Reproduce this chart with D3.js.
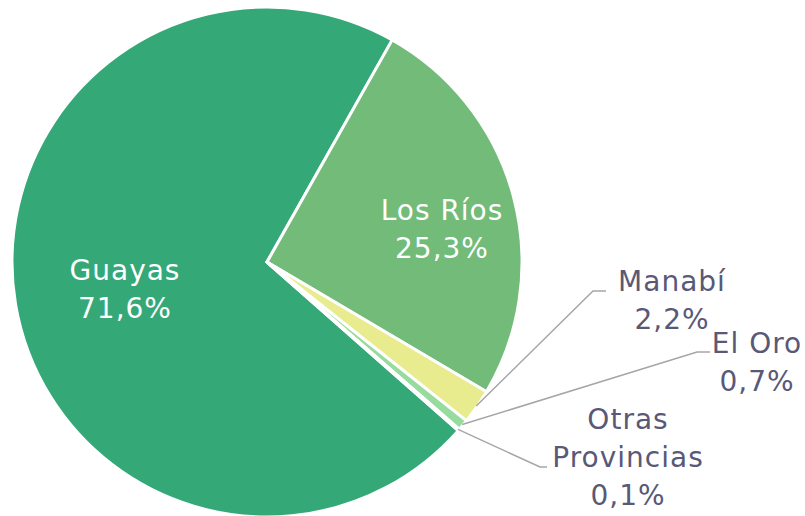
<!DOCTYPE html>
<html>
<head>
<meta charset="utf-8">
<script src="https://cdn.jsdelivr.net/npm/d3@7"></script>
<style>
    body { margin: 0; background: #ffffff; }
    svg text { font-family: "DejaVu Sans", sans-serif; }
</style>
</head>
<body>
<script>
// Pie chart: share by province (values in %)
var categories = ["Guayas", "Los Ríos", "Manabí", "El Oro", "Otras Provincias"];
var values = [71.6, 25.3, 2.2, 0.7, 0.1];
var valueLabels = ["71,6%", "25,3%", "2,2%", "0,7%", "0,1%"];
var colors = ["#35a878", "#72bb79", "#e8eb8e", "#97dc9e", "#b7e4bd"];

var width = 805,
    height = 516,
    radius = 255,
    cx = 267,
    cy = 262;

// label layout: name lines, anchor point, and whether it sits inside
var labelLayout = [
    {lines: ["Guayas"], x: 125, y: 280, inside: true},
    {lines: ["Los Ríos"], x: 442, y: 220, inside: true},
    {lines: ["Manabí"], x: 672, y: 291, hook: [606, 291]},
    {lines: ["El Oro"], x: 757, y: 353, hook: [710, 352]},
    {lines: ["Otras", "Provincias"], x: 628, y: 429, hook: [547, 467]}
];
var lineGap = 38;

var svg = d3.select("body").append("svg")
    .attr("width", width)
    .attr("height", height);

var g = svg.append("g")
    .attr("transform", "translate(" + cx + "," + cy + ")");

var data = categories.map(function(c, i) {
    return {key: c, value: values[i], color: colors[i],
            label: valueLabels[i], layout: labelLayout[i]};
});

// first slice (Guayas) starts at about 131 degrees clockwise from top
var start = 131.4 * Math.PI / 180;
var pie = d3.pie()
    .sort(null)
    .value(function(d) { return d.value; })
    .startAngle(start)
    .endAngle(start + 2 * Math.PI);

var arc = d3.arc().innerRadius(0).outerRadius(radius);
var arcs = pie(data);

g.selectAll("path.slice")
    .data(arcs)
    .enter()
    .append("path")
    .attr("class", "slice")
    .attr("d", arc)
    .attr("fill", function(d) { return d.data.color; })
    .attr("stroke", "#ffffff")
    .attr("stroke-width", 3)
    .attr("stroke-linejoin", "round");

// leader lines for the small outside slices
g.selectAll("polyline.leader")
    .data(arcs.filter(function(d) { return !d.data.layout.inside; }))
    .enter()
    .append("polyline")
    .attr("class", "leader")
    .attr("points", function(d) {
        var a = (d.startAngle + d.endAngle) / 2;
        var r = radius - 1;
        var p0 = [r * Math.sin(a), -r * Math.cos(a)];
        var h = d.data.layout.hook;
        var p2 = [h[0] - cx, h[1] - cy];
        var p1 = [p2[0] - 13, p2[1]];
        if (d.data.key === "Otras Provincias") { p1 = [p2[0] - 7, p2[1]]; }
        return [p0, p1, p2].map(function(p) { return p.join(","); }).join(" ");
    })
    .attr("fill", "none")
    .attr("stroke", "#a6a6a6")
    .attr("stroke-width", 1.5);

// labels
var labels = svg.selectAll("text.lbl")
    .data(data)
    .enter()
    .append("text")
    .attr("class", "lbl")
    .attr("text-anchor", "middle")
    .attr("font-size", "28px")
    .attr("letter-spacing", "1px")
    .attr("fill", function(d) { return d.layout.inside ? "#ffffff" : "#595977"; });

labels.each(function(d) {
    var t = d3.select(this);
    var lines = d.layout.lines.concat([d.label]);
    lines.forEach(function(s, i) {
        t.append("tspan")
            .attr("x", d.layout.x)
            .attr("y", d.layout.y + i * lineGap)
            .text(s);
    });
});
</script>
</body>
</html>
